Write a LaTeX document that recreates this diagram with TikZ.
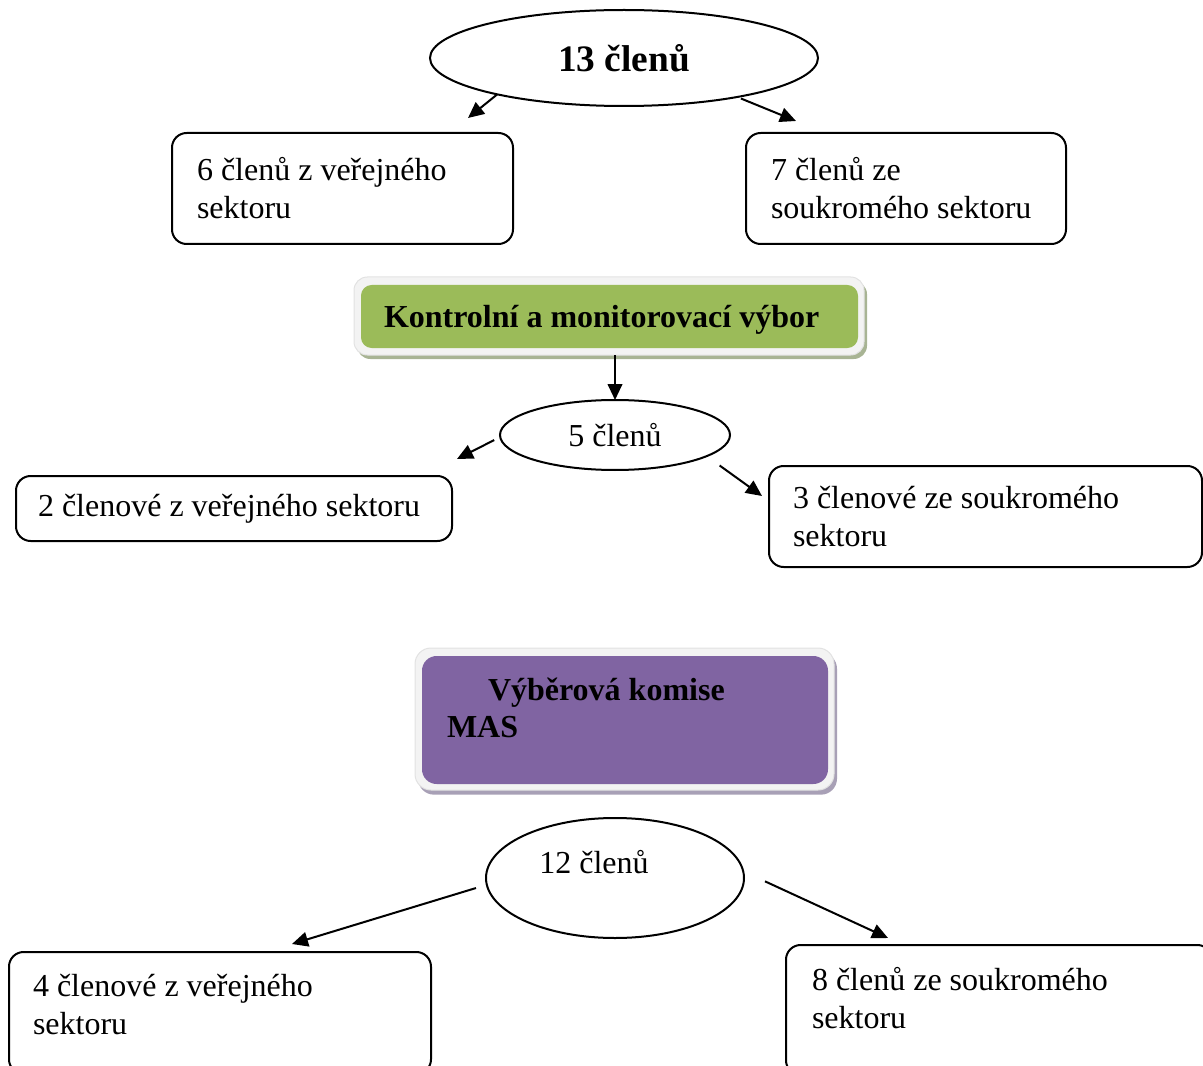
\documentclass[tikz,border=0pt]{standalone}
\usepackage{fontspec}
\setmainfont{Liberation Serif}
\usetikzlibrary{shapes.geometric,arrows.meta,shadows,positioning}

\tikzset{every picture/.style={line width=1.5pt}}
\tikzset{
  txt/.style={font=\fontsize{24}{28.5}\selectfont},
  txtb/.style={font=\fontsize{24}{27.5}\selectfont\bfseries},
  oval/.style={ellipse, draw, inner sep=0pt, outer sep=0pt, txt},
  box/.style={draw, rounded corners=11pt, outer sep=0pt, align=flush left, txt},
  lbl/.style={inner sep=0pt, outer sep=0pt, align=left, txt},
  plate/.style={draw={rgb, 255:red, 226; green, 226; blue, 226}, fill={rgb, 255:red, 243; green, 243; blue, 243}, line width=0.75pt, rounded corners=10pt, outer sep=0pt},
  arr/.style={-{Triangle[length=12pt,width=11pt]}},
}

\begin{document}
\begin{tikzpicture}[x=0.75pt,y=0.75pt,yscale=-1,xscale=1]
\useasboundingbox (0,0) rectangle (1203,1066);

%Shape: Ellipse
\node[oval, minimum width=291pt, minimum height=72pt, font=\fontsize{28}{33}\selectfont\bfseries] (e13) at (624,58) {13 členů};
%Rounded Rect
\node[box, minimum width=255.75pt, minimum height=83.25pt, inner xsep=18.75pt, text width=218.25pt] (pub6) at (342.5,188.5) {6 členů z veřejného\\sektoru};
%Rounded Rect
\node[box, minimum width=240pt, minimum height=83.25pt, inner xsep=18.75pt, text width=202.5pt] (priv7) at (906,188.5) {7 členů ze\\soukromého sektoru};
%Straight Lines
\coordinate (t1) at (468,118);
\coordinate (t2) at (796,121);
\draw[arr] (e13.196) -- (t1);
\draw[arr, shorten <=3pt] (e13.341) -- (t2);

%Rounded Rect (green)
\node[plate, minimum width=382.5pt, minimum height=58.5pt, drop shadow={shadow xshift=2.25pt, shadow yshift=-3pt, fill={rgb, 255:red, 168; green, 180; blue, 148}, opacity=1}] (kmvf) at (609,316) {};
\node[box, draw=none, fill={rgb, 255:red, 155; green, 187; blue, 89}, rounded corners=8pt, minimum width=372.75pt, minimum height=47.25pt, inner xsep=17.25pt, text width=338.25pt, text depth=0pt, txtb] (kmv) at (609.5,316.5) {Kontrolní a monitorovací výbor};

%Shape: Ellipse
\node[oval, minimum width=172.5pt, minimum height=52.5pt] (e5) at (615,435) {5 členů};
\draw[arr] (kmvf.south -| e5.north) -- (e5.north);
%Rounded Rect
\node[box, minimum width=327pt, minimum height=48.75pt, inner xsep=16.5pt, text width=294pt] (pub2) at (234,508.5) {2 členové z veřejného sektoru};
%Rounded Rect
\node[box, minimum width=324.75pt, minimum height=75.75pt, inner xsep=18pt, text width=288.75pt] (priv3) at (985.5,516.5) {3 členové ze soukromého\\sektoru};
%Straight Lines
\coordinate (t4) at (457,459);
\coordinate (t5) at (762,496);
\draw[arr, shorten <=5pt] (e5.181) -- (t4);
\draw[arr, shorten <=12pt] (e5.347) -- (t5);

%Rounded Rect (purple)
\node[plate, minimum width=314.25pt, minimum height=106.5pt, rounded corners=12pt, drop shadow={shadow xshift=2.25pt, shadow yshift=-3.5pt, fill={rgb, 255:red, 168; green, 160; blue, 182}, opacity=1}] (komf) at (624.5,719) {};
\node[box, draw=none, fill={rgb, 255:red, 128; green, 100; blue, 162}, rounded corners=11pt, minimum width=304.5pt, minimum height=96pt] (kom) at (625,720) {};
\node[lbl, txtb, below right=16.5pt and 18.75pt of kom.north west] (komtxt) {\hspace*{30.75pt}Výběrová komise\\MAS};

%Shape: Ellipse
\node[oval, minimum width=193.5pt, minimum height=90pt] (e12) at (615,878) {};
\node[lbl] (e12txt) at ([xshift=-15.75pt,yshift=-12pt]e12.center) {12 členů};
%Rounded Rect
\node[box, minimum width=316.5pt, minimum height=91.5pt] (pub4) at (220,1013) {};
\node[lbl, below right=16.5pt and 18pt of pub4.north west] (pub4txt) {4 členové z veřejného\\sektoru};
%Rounded Rect
\node[box, minimum width=319.5pt, minimum height=97.5pt] (priv8) at (999,1010) {};
\node[lbl, below right=16.5pt and 19.5pt of priv8.north west] (priv8txt) {8 členů ze soukromého\\sektoru};
%Straight Lines
\coordinate (t6) at (292,944);
\coordinate (t7) at (888,938);
\draw[arr, shorten <=8.5pt] (e12.183) -- (t6);
\draw[arr, shorten <=18pt] (e12.3) -- (t7);

\end{tikzpicture}
\end{document}
